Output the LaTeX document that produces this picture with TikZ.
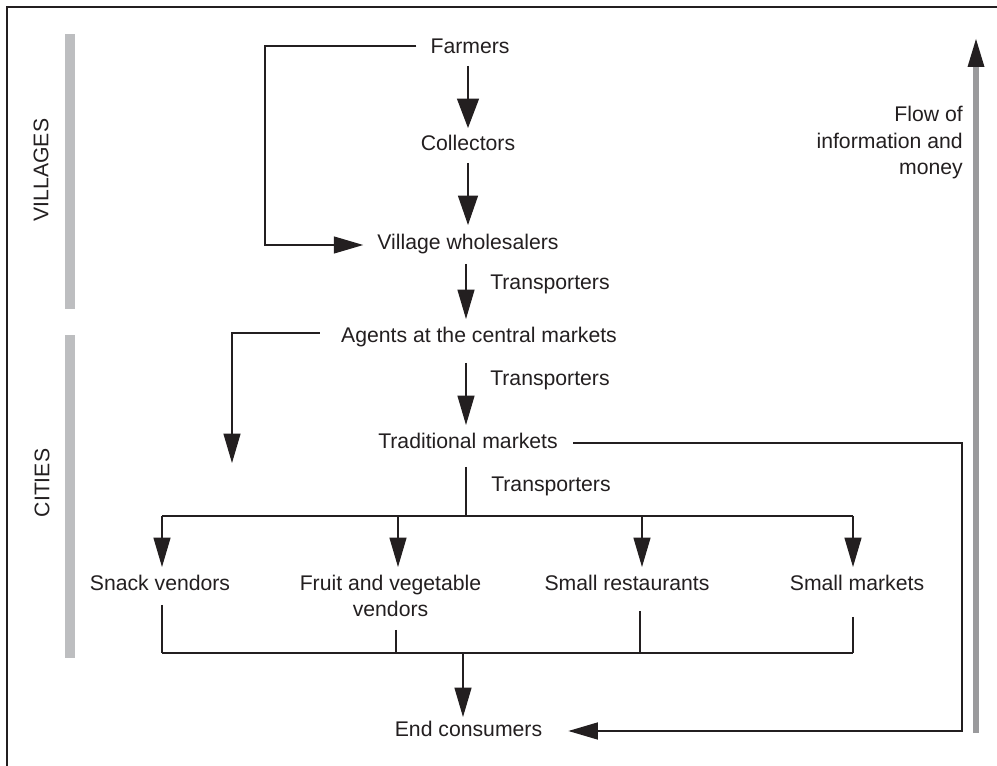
\documentclass[tikz,border=0pt]{standalone}
\usepackage{fontspec}
\setmainfont{Liberation Sans}
\usetikzlibrary{arrows.meta,calc}
\definecolor{ink}{HTML}{231F20}
\definecolor{barg}{HTML}{BDBEC0}
\definecolor{flowg}{HTML}{9A9A9C}
\tikzset{
  lbl/.style={inner sep=0pt, text=ink, font=\fontsize{15.9}{19.9}\selectfont},
  ln/.style={draw=ink, line width=0.85pt},
  arr/.style={ln, -{Triangle[length=22pt,width=#1]}},
  arr/.default=12.75pt,
  bar/.style={fill=barg},
}
\begin{document}
\begin{tikzpicture}[x=0.75pt,y=-0.75pt]
\useasboundingbox (0,0) rectangle (997,766);
\fill[white] (0,0) rectangle (997,766);
% frame
\draw[ink, line width=0.8pt] (7,766) -- (7,7) -- (997,7);
% side bars
\fill[bar] (65,34) rectangle (75,309);
\fill[bar] (65,335) rectangle (75,658);
\node[lbl, rotate=90] (villages) at (41,170) {VILLAGES};
\node[lbl, rotate=90] (cities) at (42,483) {CITIES};
% nodes
\node[lbl, anchor=base] (farmers) at (470,54) {Farmers};
\node[lbl, anchor=base] (collectors) at (468,151) {Collectors};
\node[lbl, anchor=base] (village) at (468,250) {Village wholesalers};
\node[lbl, anchor=base] (agents) at (479,343) {Agents at the central markets};
\node[lbl, anchor=base] (trad) at (468,449) {Traditional markets};
\node[lbl, anchor=base west] (tr1) at (490,290) {Transporters};
\node[lbl, anchor=base west] (tr2) at (490,386) {Transporters};
\node[lbl, anchor=base west] (tr3) at (491,492) {Transporters};
\node[lbl, anchor=base] (snack) at (160,591) {Snack vendors};
\node[lbl, anchor=base, align=center] (fruit) at (390.5,617) {Fruit and vegetable\\vendors};
\node[lbl, anchor=base] (rest) at (627,591) {Small restaurants};
\node[lbl, anchor=base] (smallm) at (857,591) {Small markets};
\node[lbl, anchor=base] (endc) at (468.5,736) {End consumers};
\node[lbl, anchor=base east, align=right] (flow) at (963,175) {Flow of\\information and\\money};
% helper coordinates
\coordinate (c1) at (265,46);
\coordinate (c2) at (232,333);
\coordinate (c3) at (232,463);
\coordinate (c4) at (962,443);
\coordinate (c5) at (962,731);
\coordinate (b0) at (466,516);
\coordinate (b1) at (162,516);
\coordinate (b2) at (398,516);
\coordinate (b3) at (642,516);
\coordinate (b4) at (853,516);
\coordinate (d0) at (463,653);
\coordinate (d1) at (162,653);
\coordinate (d2) at (396,653);
\coordinate (d3) at (640,653);
\coordinate (d4) at (853,653);
\coordinate (fb) at (976,733);
\coordinate (ft) at (976,39);
% main chain
\draw[arr=16.5pt] ($(farmers.base)+(-2,12)$) -- ($(collectors.base)+(0,-23)$);
\draw[arr=15pt] ($(collectors.base)+(0,12)$) -- ($(village.base)+(0,-25)$);
\draw[arr] ($(village.base)+(-2,14)$) -- ($(agents.base)+(-13,-24)$);
\draw[arr] ($(agents.base)+(-13,20)$) -- ($(trad.base)+(-2,-24)$);
\draw[ln] ($(trad.base)+(-2,18)$) -- (b0);
% bypasses
\draw[arr] ($(farmers.base west)+(-14,-8)$) -- (c1) |- ($(village.base west)+(-14,-5)$);
\draw[arr] ($(agents.base west)+(-21,-10)$) -- (c2) -- (c3);
\draw[arr] ($(trad.base east)+(15,-6)$) -- (c4) -- (c5) -- ($(endc.base east)+(26,-5)$);
% distribution bus
\draw[ln] (b1) -- (b4);
\draw[arr] (b1) -- ($(b1 |- snack.base)+(0,-24)$);
\draw[arr] (b2) -- ($(b2 |- snack.base)+(0,-24)$);
\draw[arr] (b3) -- ($(b3 |- rest.base)+(0,-24)$);
\draw[arr] (b4) -- ($(b4 |- smallm.base)+(0,-24)$);
% collection bus
\draw[ln] ($(d1 |- snack.base)+(0,14)$) -- (d1);
\draw[ln] ($(d2 |- fruit.base)+(0,13)$) -- (d2);
\draw[ln] ($(d3 |- rest.base)+(0,20)$) -- (d3);
\draw[ln] ($(d4 |- smallm.base)+(0,26)$) -- (d4);
\draw[ln] (d1) -- (d4);
\draw[arr] (d0) -- ($(endc.base)+(-5.5,-19)$);
% flow of information and money
\draw[flowg, line width=4.5pt, -{Triangle[length=21pt,width=12.75pt,line width=0pt,color=ink]}] (fb) -- (ft);
\end{tikzpicture}
\end{document}
